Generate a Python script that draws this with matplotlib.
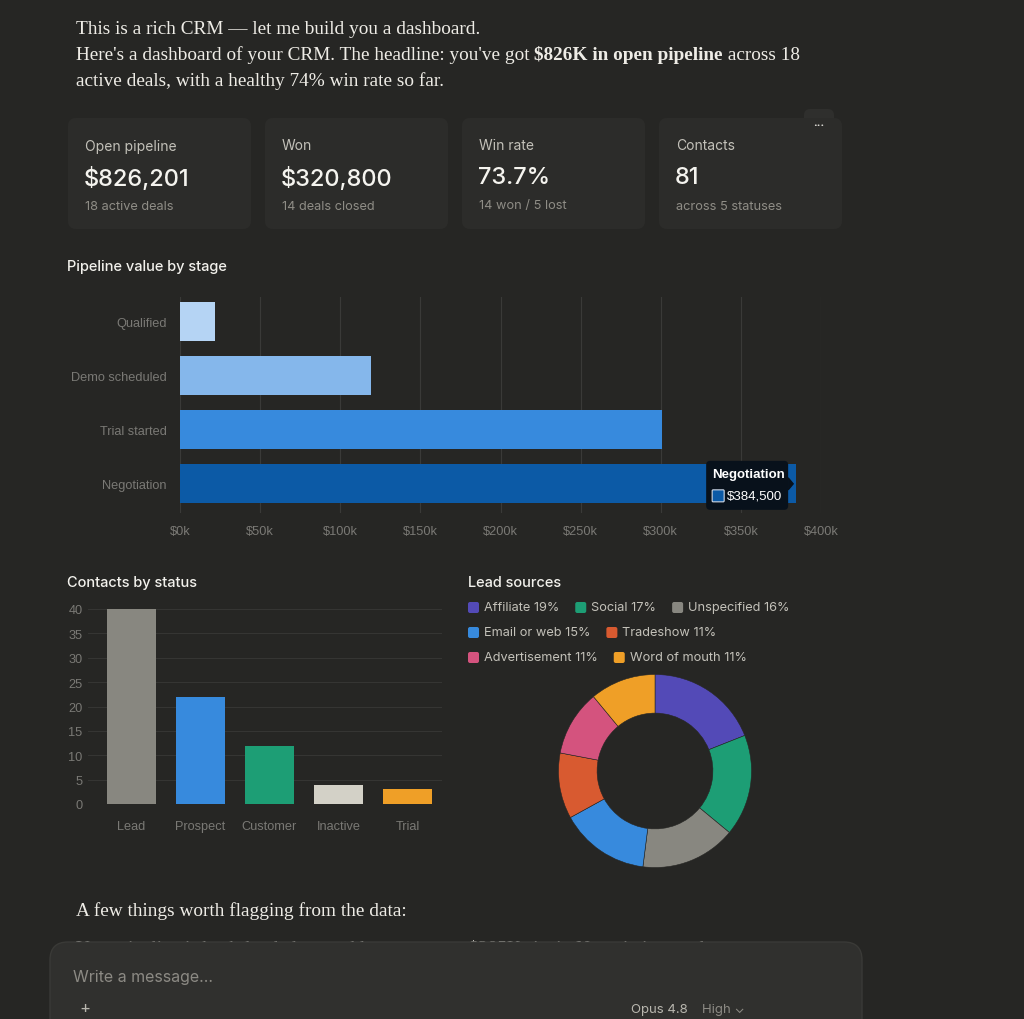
import numpy as np
import matplotlib
matplotlib.use("Agg")
import matplotlib.pyplot as plt
from matplotlib.patches import FancyBboxPatch

# ---- data ----
kpi_titles = ["Open pipeline", "Won", "Win rate", "Contacts"]
kpi_values = ["$826,201", "$320,800", "73.7%", "81"]
kpi_notes = ["18 active deals", "14 deals closed", "14 won / 5 lost", "across 5 statuses"]

stages = ["Qualified", "Demo scheduled", "Trial started", "Negotiation"]
stage_values = [22000, 119000, 300701, 384500]
stage_colors = ["#b5d4f4", "#85b7eb", "#378add", "#0c5aa6"]

statuses = ["Lead", "Prospect", "Customer", "Inactive", "Trial"]
status_counts = [40, 22, 12, 4, 3]
status_colors = ["#888780", "#378add", "#1d9e75", "#d3d1c7", "#ef9f27"]

sources = ["Affiliate", "Social", "Unspecified", "Email or web", "Tradeshow",
           "Advertisement", "Word of mouth"]
source_shares = [19, 17, 16, 15, 11, 11, 11]
source_colors = ["#534ab7", "#1d9e75", "#888780", "#378add", "#d85a30",
                 "#d4537e", "#ef9f27"]

BG = "#262624"
CARD = "#2c2c2a"
W, H = 1024, 1020
SERIF = "Liberation Serif"
UI = "Inter"
AXF = "Liberation Sans"
dy = 1.5  # small nudge so UI text sits like the reference

fig = plt.figure(figsize=(W / 100, H / 100), dpi=100, facecolor=BG)
rend = fig.canvas.get_renderer()

def px_axes(left, top, right, bottom):
    return fig.add_axes([left / W, 1 - bottom / H, (right - left) / W, (bottom - top) / H])

def pixel_axes():
    a = fig.add_axes([0, 0, 1, 1])
    a.set_xlim(0, W)
    a.set_ylim(H, 0)
    a.axis("off")
    a.patch.set_alpha(0)
    return a

bg = pixel_axes()

def rbox(a, x0, y0, x1, y1, r, fc, ec="none", z=1, lw=1):
    p = FancyBboxPatch((x0, y0), x1 - x0, y1 - y0,
                       boxstyle="round,pad=0,rounding_size=%g" % r,
                       fc=fc, ec=ec, lw=lw, zorder=z)
    a.add_patch(p)
    return p

def width_of(t):
    return t.get_window_extent(rend).width

# ---- intro text ----
fs_serif = 13.9
bg.text(76, 29, "This is a rich CRM \u2014 let me build you a dashboard.",
        family=SERIF, size=fs_serif, color="#eeece6", va="center")
x = 76
for part, wt in [("Here's a dashboard of your CRM. The headline: you've got ", "normal"),
                 ("$826K in open pipeline", "bold"),
                 (" across 18", "normal")]:
    t = bg.text(x, 55, part, family=SERIF, size=fs_serif, color="#eeece6",
                va="center", weight=wt)
    x += width_of(t)
bg.text(76, 81, "active deals, with a healthy 74% win rate so far.",
        family=SERIF, size=fs_serif, color="#eeece6", va="center")

# ---- KPI cards ----
card_x = [68, 265, 462, 659]
rbox(bg, 804, 110, 834, 136, 6, "#2f2f2d", z=0.5)
for cx, ttl, val, note in zip(card_x, kpi_titles, kpi_values, kpi_notes):
    rbox(bg, cx, 119, cx + 183, 230, 8, CARD)
    bg.text(cx + 17, 145 + dy, ttl, family=UI, size=10, color="#c3c1b9", va="center")
    bg.text(cx + 16, 177 + dy, val, family=UI, size=17, color="#f5f4ef", va="center",
            weight="medium")
    bg.text(cx + 17, 205 + dy, note, family=UI, size=9.2, color="#8f8d86", va="center")
bg.text(819, 125, "\u2022\u2022\u2022", family="DejaVu Sans", size=4.5,
        color="#e8e6e0", ha="center", va="center", zorder=3)

# ---- pipeline by stage ----
bg.text(67, 266 + dy, "Pipeline value by stage", family=UI, size=10.5,
        color="#f2f1ec", va="center", weight="medium")
ax1 = px_axes(180, 298, 821, 514)
ax1.set_facecolor("none")
ypos = np.arange(len(stages))
ax1.barh(ypos, stage_values, height=0.72, color=stage_colors, zorder=2)
ax1.set_xlim(0, 400000)
ax1.set_ylim(3.54, -0.46)
xt = np.arange(0, 400001, 50000)
ax1.set_xticks(xt)
ax1.set_xticklabels(["$%dk" % (v // 1000) for v in xt])
ax1.set_yticks(ypos)
ax1.set_yticklabels(stages)
ax1.grid(axis="x", color="#3a3a38", lw=0.8, zorder=0)
for s in ax1.spines.values():
    s.set_visible(False)
ax1.tick_params(length=0, colors="#7a7975", labelsize=9.2)
ax1.tick_params(axis="y", pad=9.5)
ax1.tick_params(axis="x", pad=9)
for lab in ax1.get_xticklabels() + ax1.get_yticklabels():
    lab.set_family(AXF)

# ---- contacts by status ----
bg.text(67, 582 + dy, "Contacts by status", family=UI, size=10.5,
        color="#f2f1ec", va="center", weight="medium")
ax2 = px_axes(88, 610, 442, 805)
ax2.set_facecolor("none")
xpos = np.arange(len(statuses))
ax2.bar(xpos, status_counts, width=0.71, color=status_colors, zorder=2, clip_on=False)
ax2.set_xlim(-0.63, 4.5)
ax2.set_ylim(0, 40)
ax2.set_yticks(np.arange(0, 41, 5))
ax2.set_xticks(xpos)
ax2.set_xticklabels(statuses)
ax2.grid(axis="y", color="#353533", lw=0.8, zorder=0)
for s in ax2.spines.values():
    s.set_visible(False)
ax2.tick_params(length=0, colors="#7a7975", labelsize=9.2)
ax2.tick_params(axis="y", pad=4)
ax2.tick_params(axis="x", pad=11.5)
for lab in ax2.get_xticklabels() + ax2.get_yticklabels():
    lab.set_family(AXF)

# ---- lead sources ----
bg.text(468, 582 + dy, "Lead sources", family=UI, size=10.5,
        color="#f2f1ec", va="center", weight="medium")
lx, ly = 468, 607 + dy
for name, share, col in zip(sources, source_shares, source_colors):
    t = bg.text(lx + 16, ly, "%s %d%%" % (name, share), family=UI, size=9.2,
                color="#c3c1b9", va="center")
    w = width_of(t)
    if lx + 16 + w > 815:
        lx, ly = 468, ly + 25
        t.set_position((lx + 16, ly))
    rbox(bg, lx, ly - 5.5, lx + 11, ly + 5.5, 2, col, z=2)
    lx += 16 + w + 16

ax3 = px_axes(558, 675, 752, 869)
ax3.pie(source_shares, colors=source_colors, startangle=90, counterclock=False,
        radius=1, wedgeprops=dict(width=0.4, edgecolor=BG, linewidth=0.4))
ax3.set_xlim(-1.005, 1.005)
ax3.set_ylim(-1.005, 1.005)

# ---- overlay: tooltip and input box ----
top = pixel_axes()

# tooltip anchored to the Negotiation bar end
bx, by = top.transData.inverted().transform(
    ax1.transData.transform((stage_values[-1], ypos[-1])))
tx1 = bx - 8
rbox(top, tx1 - 82, by - 23, tx1, by + 26, 4, "#08111b", z=5)
top.fill([tx1, tx1 + 5, tx1], [by - 6, by, by + 6], color="#08111b", zorder=5)
top.text(tx1 - 76, by - 10, stages[-1], family=AXF, size=9.5, weight="bold",
         color="white", va="center", zorder=6)
rbox(top, tx1 - 76, by + 6, tx1 - 64, by + 18, 1, stage_colors[-1], ec="#d0d8e4", z=6, lw=0.8)
top.text(tx1 - 61, by + 12, "${:,}".format(stage_values[-1]), family=AXF, size=9.5,
         color="white", va="center", zorder=6)

top.text(76, 911, "A few things worth flagging from the data:", family=SERIF,
         size=fs_serif, color="#eeece6", va="center")
top.text(76, 949, "Your pipeline is back-loaded toward late stages \u2014 $385K sits in Negotiation, and",
         family=SERIF, size=fs_serif, color="#eeece6", va="center", zorder=2)
rbox(top, 50, 943, 862, 1060, 18, "#30302e", ec="#3a3a37", z=4)
top.text(73, 978, "Write a message\u2026", family=UI, size=11.5, color="#8c8a84",
         va="center", zorder=5)
top.text(85, 1009, "+", family=UI, size=12, color="#b8b6ae", ha="center",
         va="center", zorder=5)
top.text(631, 1010, "Opus 4.8", family=UI, size=9.5, color="#b8b6ae", va="center", zorder=5)
top.text(702, 1010, "High \u2304", family=UI, size=9.5, color="#8c8a84", va="center", zorder=5)

fig.savefig("out.png", dpi=100, facecolor=BG)
